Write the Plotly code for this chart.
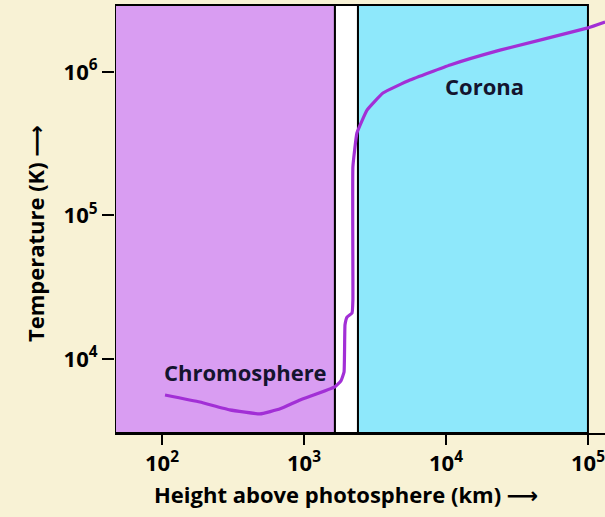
import plotly.graph_objects as go

# temperature profile above the photosphere
height_km = [105, 185, 300, 490, 680, 940, 1650, 1820, 1915, 1945, 2010,
             2180, 2210, 2210, 2360, 2780, 3600, 5570, 10700, 24000,
             100000, 132000]
temp_k = [5610, 5010, 4420, 4140, 4490, 5180, 6380, 7030, 8110, 17300,
          19600, 20900, 25800, 218000, 376000, 543000, 714000, 879000,
          1.12e6, 1.42e6, 2.03e6, 2.23e6]

# regions (km)
chromo_start = 10 ** 1.669
chromo_end = 1652
corona_start = 2400
corona_end = 1e5

tick_vals_x = [1e2, 1e3, 1e4, 1e5]
tick_text_x = ["<b>10<sup>2</sup></b>", "<b>10<sup>3</sup></b>",
               "<b>10<sup>4</sup></b>", "<b>10<sup>5</sup></b>"]
tick_vals_y = [1e4, 1e5, 1e6]
tick_text_y = ["<b>10<sup>4</sup></b>", "<b>10<sup>5</sup></b>",
               "<b>10<sup>6</sup></b>"]

font = "Open Sans, DejaVu Sans, sans-serif"
ink = "#14142e"

fig = go.Figure()

fig.add_trace(
    go.Scatter(
        x=height_km,
        y=temp_k,
        mode="lines",
        line=dict(color="#a22fd6", width=3.2, shape="spline", smoothing=0.3),
        showlegend=False,
        hoverinfo="skip",
    )
)

# coloured regions
for x0, x1, colour in [(chromo_start, chromo_end, "#d99df2"),
                       (chromo_end, corona_start, "white"),
                       (corona_start, corona_end, "#8ee8fb")]:
    fig.add_vrect(x0=x0, x1=x1, fillcolor=colour, opacity=1, layer="below",
                  line=dict(color="black", width=2))

fig.add_annotation(x=2.59, y=3.91, xref="x", yref="y", text="<b>Chromosphere</b>",
                   showarrow=False, font=dict(size=22, color=ink, family=font))
fig.add_annotation(x=4.268, y=5.90, xref="x", yref="y", text="<b>Corona</b>",
                   showarrow=False, font=dict(size=22, color=ink, family=font))

# axis titles as annotations for exact placement
fig.add_annotation(x=0.471, y=-0.1425, xref="paper", yref="paper",
                   xanchor="center", yanchor="middle",
                   text="<b>Height above photosphere (km) ⟶</b>",
                   showarrow=False, font=dict(size=22, color="black", family=font))
fig.add_annotation(x=-0.163, y=0.465, xref="paper", yref="paper",
                   xanchor="center", yanchor="middle",
                   text="<b>Temperature (K) ⟶</b>", textangle=-90,
                   showarrow=False, font=dict(size=22, color="black", family=font))

fig.update_xaxes(
    type="log",
    range=[1.669, 5.12],
    tickvals=tick_vals_x,
    ticktext=tick_text_x,
    ticks="outside",
    ticklen=10,
    tickwidth=2,
    tickcolor="black",
    ticklabeloverflow="allow",
    showline=True,
    linecolor="black",
    linewidth=2,
    showgrid=False,
    zeroline=False,
    tickfont=dict(size=22, color="black", family=font),
)
fig.update_yaxes(
    type="log",
    range=[3.484, 6.467],
    tickvals=tick_vals_y,
    ticktext=tick_text_y,
    ticks="outside",
    ticklen=12,
    tickwidth=2,
    tickcolor="black",
    showline=False,
    showgrid=False,
    zeroline=False,
    tickfont=dict(size=22, color="black", family=font),
)

fig.update_layout(
    width=605,
    height=517,
    margin=dict(l=115, r=0, t=5, b=84, autoexpand=False),
    paper_bgcolor="#f8f2d5",
    plot_bgcolor="#f8f2d5",
    font=dict(family=font),
)

fig.write_html("out.html", config={"displayModeBar": False},
               post_script="document.body.style.margin = '0';")
